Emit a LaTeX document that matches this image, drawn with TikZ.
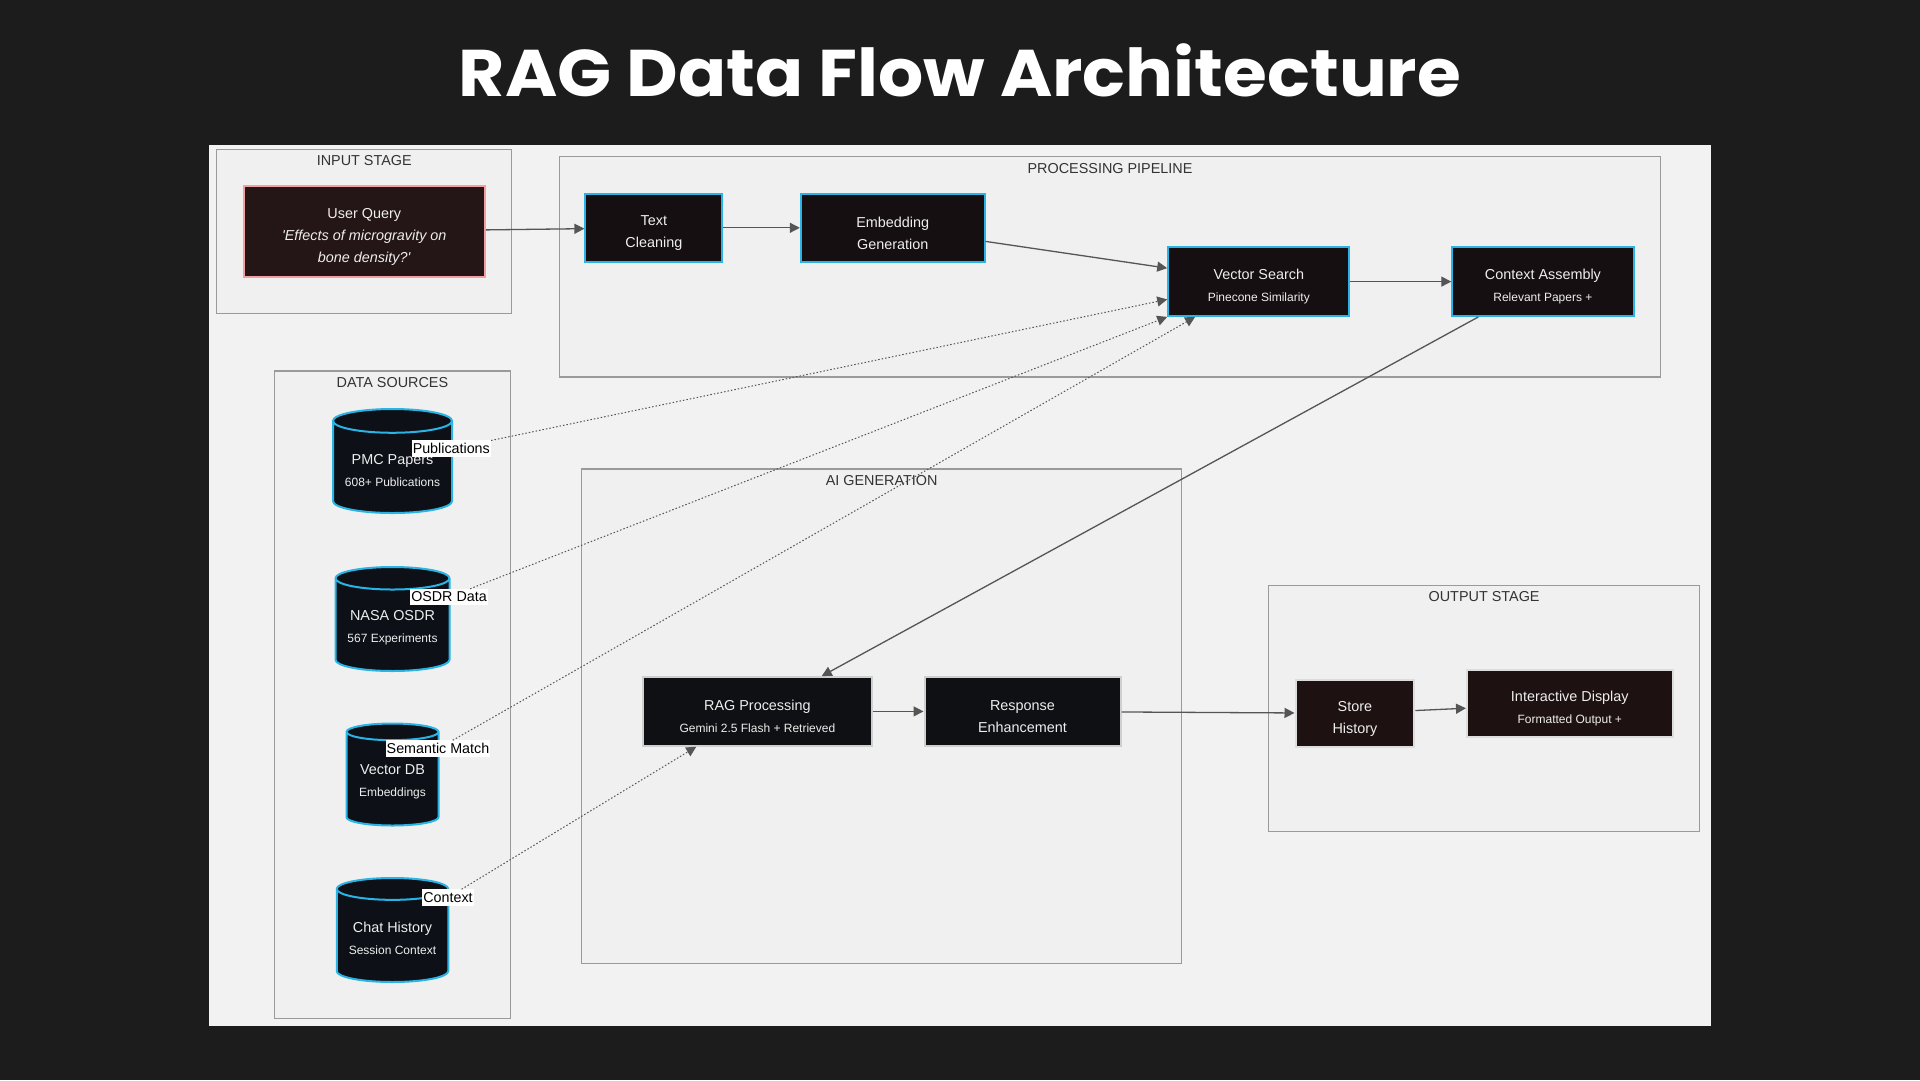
\documentclass[tikz,border=0pt]{standalone}
\usepackage{fontspec}
\setmainfont{Liberation Sans}
\newfontfamily\titlefont{Poppins}
\usetikzlibrary{shapes.geometric,arrows.meta}
\definecolor{bgdark}{HTML}{1C1C1C}
\definecolor{panel}{HTML}{F2F2F2}
\definecolor{clusterfill}{HTML}{F0F0F0}
\definecolor{clusterline}{HTML}{9A9A9A}
\definecolor{clustertext}{HTML}{333333}
\definecolor{cyanline}{HTML}{2AB4E6}
\definecolor{procfill}{HTML}{160F11}
\definecolor{queryfill}{HTML}{241516}
\definecolor{queryline}{HTML}{F0A0A0}
\definecolor{genfill}{HTML}{0F1013}
\definecolor{genline}{HTML}{CFCFCF}
\definecolor{outfill}{HTML}{1E1112}
\definecolor{outline}{HTML}{DDDDDD}
\definecolor{dbfill}{HTML}{0D1117}
\definecolor{nodetext}{HTML}{EEEEEE}
\definecolor{edgegrey}{HTML}{555555}
\newcommand\subline[1]{{\fontsize{12}{14}\selectfont #1}}
\begin{document}
\begin{tikzpicture}[x=1pt,y=-1pt,
    cluster/.style={draw=clusterline,fill=clusterfill,line width=1.3pt,inner sep=0pt,
      label={[anchor=north,yshift=-3.5pt,text=clustertext,font=\fontsize{14.4}{17}\selectfont]north:#1}},
    stagebox/.style={rectangle,line width=2pt,text=nodetext,align=center,inner sep=0pt,
      text height=42.6pt,font=\fontsize{14.4}{22}\selectfont},
    querybox/.style={stagebox,draw=queryline,fill=queryfill,text height=64.6pt},
    procbox/.style={stagebox,draw=cyanline,fill=procfill},
    genbox/.style={stagebox,draw=genline,fill=genfill},
    outbox/.style={stagebox,draw=outline,fill=outfill},
    dbcyl/.style={cylinder,shape border rotate=90,aspect=0.25,draw=cyanline,fill=dbfill,
      anchor=shape center,line width=2pt,text=nodetext,align=center,inner sep=0pt,
      text height=37.5pt,font=\fontsize{14.4}{22}\selectfont},
    edgetag/.style={fill=white,text=black,inner xsep=1pt,inner ysep=3pt,
      font=\fontsize{14.3}{16}\selectfont},
    flow/.style={draw=edgegrey,line width=1.3pt,-{Triangle[length=10pt,width=10pt]}},
    feed/.style={draw=edgegrey,line width=1pt,dash pattern=on 1.5pt off 2pt,
      -{Triangle[length=10pt,width=10pt]}}]
  \useasboundingbox (0,0) rectangle (1920,1080);
  \fill[bgdark] (0,0) rectangle (1920,1080);
  \fill[panel] (209,144.5) rectangle (1711,1026);
  \node[font=\titlefont\bfseries\fontsize{66}{70}\selectfont,text=white,anchor=base,xscale=1.076]
    (title) at (960,96.7) {RAG Data Flow Architecture};

  % stages
  \node[cluster=INPUT STAGE,minimum width=295.1pt,minimum height=164.1pt] (inputstage) at (364.25,231.45) {};
  \node[cluster=PROCESSING PIPELINE,minimum width=1100.8pt,minimum height=220.4pt] (pipeline) at (1110,266.9) {};
  \node[cluster=DATA SOURCES,minimum width=236.3pt,minimum height=647.8pt] (sources) at (392.45,694.9) {};
  \node[cluster=AI GENERATION,minimum width=600.1pt,minimum height=494.7pt] (aigen) at (881.65,716.35) {};
  \node[cluster=OUTPUT STAGE,minimum width=431pt,minimum height=246.1pt] (outstage) at (1484.1,708.35) {};

  % nodes
  \node[querybox,minimum width=241.2pt,minimum height=90.6pt] (query) at (364.3,231.4)
    {User Query\\\textit{\textquotesingle Effects of microgravity on}\\\textit{bone density?\textquotesingle}};
  \node[procbox,minimum width=137pt,minimum height=68.5pt] (clean) at (653.9,227.8) {Text\\Cleaning};
  \node[procbox,minimum width=183.7pt,minimum height=68.5pt] (embed) at (892.7,227.8) {Embedding\\Generation};
  \node[procbox,minimum width=181.2pt,minimum height=68.6pt] (search) at (1258.8,281.6)
    {Vector Search\\\subline{Pinecone Similarity}};
  \node[procbox,minimum width=181.2pt,minimum height=68.6pt] (assembly) at (1542.9,281.6)
    {Context Assembly\\\subline{Relevant Papers +}};
  \node[genbox,minimum width=229pt,minimum height=68.6pt] (rag) at (757.4,711.4)
    {RAG Processing\\\subline{Gemini 2.5 Flash + Retrieved}};
  \node[genbox,minimum width=196pt,minimum height=68.6pt] (enhance) at (1022.5,711.4) {Response\\Enhancement};
  \node[outbox,minimum width=118.8pt,minimum height=67.4pt] (store) at (1354.9,713.3) {Store\\History};
  \node[outbox,minimum width=205.7pt,minimum height=67.3pt] (display) at (1569.8,703.5)
    {Interactive Display\\\subline{Formatted Output +}};

  \node[dbcyl,minimum width=119pt,minimum height=104pt] (pmc) at (392.5,461) {PMC Papers\\\subline{608+ Publications}};
  \node[dbcyl,minimum width=114pt,minimum height=104pt] (osdr) at (392.5,619) {NASA OSDR\\\subline{567 Experiments}};
  \node[dbcyl,minimum width=92pt,minimum height=102pt] (vectordb) at (392.5,774.5) {Vector DB\\\subline{Embeddings}};
  \node[dbcyl,minimum width=111.5pt,minimum height=104pt] (chat) at (392.5,930) {Chat History\\\subline{Session Context}};

  % edge labels
  \node[edgetag] (pubtag) at (451.3,448.7) {Publications};
  \node[edgetag] (osdrtag) at (449,597) {OSDR Data};
  \node[edgetag] (semtag) at (438,748.7) {Semantic Match};
  \node[edgetag] (ctxtag) at (448,897.5) {Context};

  \begin{scope}[flow]
    \draw (query) to (clean);
    \draw (clean) to (embed);
    \draw (embed) to (search);
    \draw (search) to (assembly);
    \draw (assembly) to (rag);
    \draw (rag) to (enhance);
    \draw (enhance) to (store);
    \draw (store) to (display);
  \end{scope}
  \begin{scope}[feed]
    \draw (pubtag) to (search.191.5);
    \draw (osdrtag) to (search.south west);
    \draw (semtag) to (search.209);
    \draw (ctxtag) to (rag.210);
  \end{scope}
\end{tikzpicture}
\end{document}
